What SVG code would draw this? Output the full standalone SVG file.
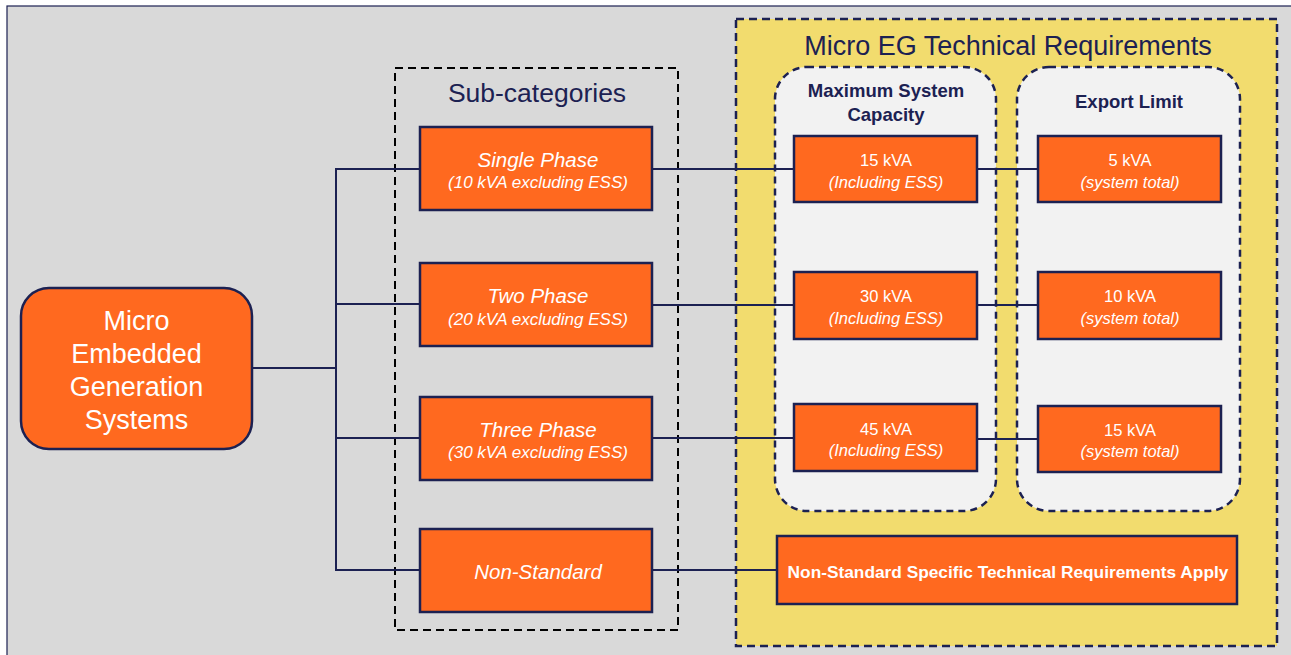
<svg xmlns="http://www.w3.org/2000/svg" width="1291" height="655" viewBox="0 0 1291 655">
<style>
.nodebox{fill:#FF691F;stroke:#1C2152;stroke-width:2.5}
.conn{stroke:#1C2152;stroke-width:2;fill:none}
.t{font-family:"Liberation Sans",Arial,sans-serif;fill:#FFFFFF;text-anchor:middle}
.it{font-style:italic}
.hdr{font-family:"Liberation Sans",Arial,sans-serif;fill:#1C2152;text-anchor:middle}
</style>
<rect x="0" y="0" width="1291" height="655" fill="#FFFFFF"/>
<rect x="7" y="6" width="1292" height="660" fill="#D9D9D9" stroke="#1C2152" stroke-width="1.2"/>

<g id="subcategories-group">
<rect x="395" y="68" width="283" height="562" fill="none" stroke="#000000" stroke-width="2" stroke-dasharray="8,5"/>
<text class="hdr" x="537" y="102" font-size="26.5">Sub-categories</text>
</g>

<g id="requirements-group">
<rect x="736" y="19" width="541" height="627" fill="#F2DC6E" stroke="#1C2152" stroke-width="2.5" stroke-dasharray="8,5"/>
<text class="hdr" x="1008" y="55" font-size="27">Micro EG Technical Requirements</text>
<rect x="775" y="67" width="221" height="444" rx="32" fill="#F2F2F2" stroke="#1C2152" stroke-width="2.5" stroke-dasharray="7,5"/>
<text class="hdr" x="886" y="97" font-size="18.5" font-weight="bold">Maximum System</text>
<text class="hdr" x="886" y="121" font-size="18.5" font-weight="bold">Capacity</text>
<rect x="1017" y="67" width="223" height="444" rx="32" fill="#F2F2F2" stroke="#1C2152" stroke-width="2.5" stroke-dasharray="7,5"/>
<text class="hdr" x="1129" y="108" font-size="18.5" font-weight="bold">Export Limit</text>
</g>

<g id="connectors">
<line class="conn" x1="252" y1="368" x2="336" y2="368" stroke-width="3"/>
<line class="conn" x1="336" y1="168" x2="336" y2="571"/>
<line class="conn" x1="335" y1="169" x2="420" y2="169"/>
<line class="conn" x1="335" y1="304" x2="420" y2="304"/>
<line class="conn" x1="335" y1="438" x2="420" y2="438"/>
<line class="conn" x1="335" y1="570" x2="420" y2="570"/>
<line class="conn" x1="652" y1="169" x2="795" y2="169"/>
<line class="conn" x1="652" y1="305" x2="794" y2="305"/>
<line class="conn" x1="652" y1="438" x2="794" y2="438"/>
<line class="conn" x1="652" y1="570" x2="777" y2="570"/>
<line class="conn" x1="977" y1="169" x2="1038" y2="169"/>
<line class="conn" x1="977" y1="305" x2="1038" y2="305"/>
<line class="conn" x1="977" y1="439" x2="1038" y2="439"/>
</g>

<g id="micro-egs">
<rect x="21" y="288" width="231" height="161" rx="28" class="nodebox"/>
<text class="t" x="136.5" y="330" font-size="27">Micro</text>
<text class="t" x="136.5" y="363" font-size="27">Embedded</text>
<text class="t" x="136.5" y="396" font-size="27">Generation</text>
<text class="t" x="136.5" y="429" font-size="27">Systems</text>
</g>

<g id="single-phase">
<rect x="420" y="127" width="232" height="83" class="nodebox"/>
<text class="t it" x="538" y="167" font-size="20.5">Single Phase</text>
<text class="t it" x="538" y="188" font-size="17">(10 kVA excluding ESS)</text>
</g>
<g id="two-phase">
<rect x="420" y="263" width="232" height="83" class="nodebox"/>
<text class="t it" x="538" y="303" font-size="20.5">Two Phase</text>
<text class="t it" x="538" y="325" font-size="17">(20 kVA excluding ESS)</text>
</g>
<g id="three-phase">
<rect x="420" y="397" width="232" height="83" class="nodebox"/>
<text class="t it" x="538" y="437" font-size="20.5">Three Phase</text>
<text class="t it" x="538" y="458" font-size="17">(30 kVA excluding ESS)</text>
</g>
<g id="non-standard">
<rect x="420" y="529" width="232" height="83" class="nodebox"/>
<text class="t it" x="538" y="579" font-size="20.5">Non-Standard</text>
</g>

<g id="cap-15">
<rect x="794" y="136" width="183" height="66" class="nodebox"/>
<text class="t" x="886" y="166" font-size="16.5">15 kVA</text>
<text class="t it" x="886" y="188" font-size="16.5">(Including ESS)</text>
</g>
<g id="cap-30">
<rect x="794" y="272" width="183" height="67" class="nodebox"/>
<text class="t" x="886" y="302" font-size="16.5">30 kVA</text>
<text class="t it" x="886" y="324" font-size="16.5">(Including ESS)</text>
</g>
<g id="cap-45">
<rect x="794" y="404" width="183" height="67" class="nodebox"/>
<text class="t" x="886" y="435" font-size="16.5">45 kVA</text>
<text class="t it" x="886" y="456" font-size="16.5">(Including ESS)</text>
</g>

<g id="exp-5">
<rect x="1038" y="136" width="183" height="66" class="nodebox"/>
<text class="t" x="1130" y="166" font-size="16.5">5 kVA</text>
<text class="t it" x="1130" y="188" font-size="16.5">(system total)</text>
</g>
<g id="exp-10">
<rect x="1038" y="272" width="183" height="67" class="nodebox"/>
<text class="t" x="1130" y="302" font-size="16.5">10 kVA</text>
<text class="t it" x="1130" y="324" font-size="16.5">(system total)</text>
</g>
<g id="exp-15">
<rect x="1038" y="406" width="183" height="66" class="nodebox"/>
<text class="t" x="1130" y="436" font-size="16.5">15 kVA</text>
<text class="t it" x="1130" y="457" font-size="16.5">(system total)</text>
</g>

<g id="non-standard-req">
<rect x="777" y="536" width="460" height="68" class="nodebox"/>
<text class="t" x="1008" y="578" font-size="17.3" font-weight="bold">Non-Standard Specific Technical Requirements Apply</text>
</g>
</svg>
